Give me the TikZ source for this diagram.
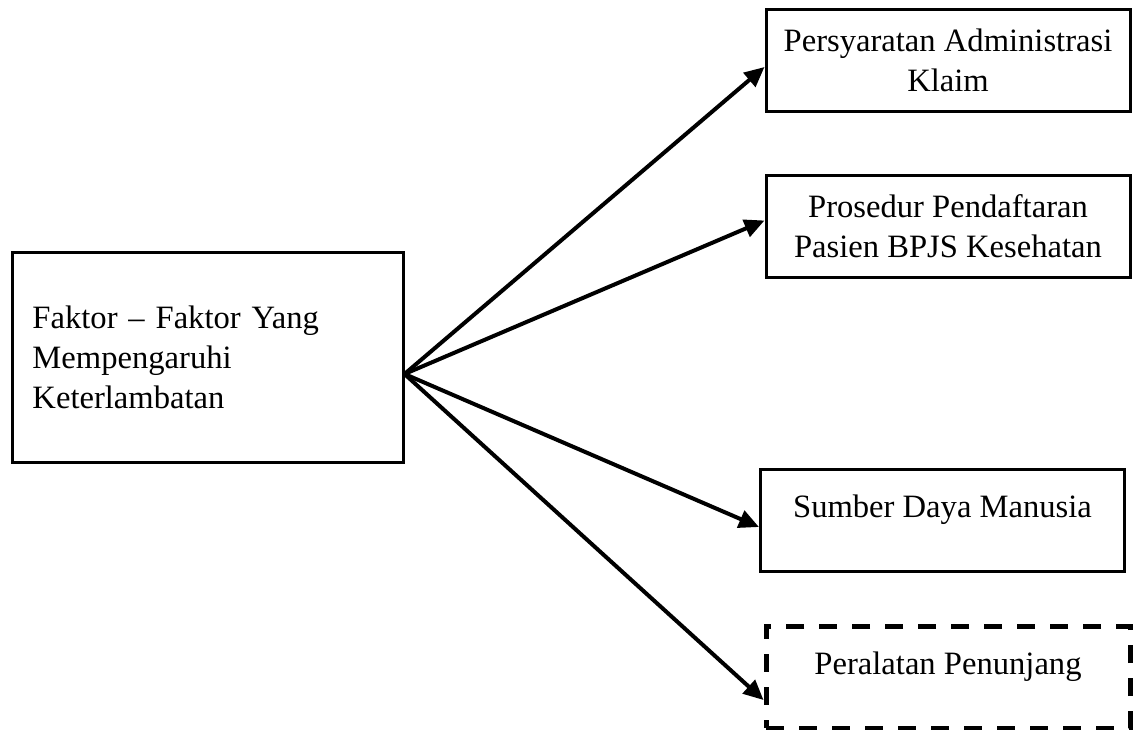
\documentclass[tikz,border=0pt]{standalone}
\usepackage{fontspec}
\setmainfont{Liberation Serif}
\usetikzlibrary{arrows.meta}
\tikzset{
  kotak/.style={draw, line width=1.5pt, minimum width=182pt, minimum height=51pt,
    align=center, inner sep=4pt, font=\fontsize{16.3}{20}\selectfont},
  kotakputus/.style={kotak, line width=2.5pt, dash pattern=on 9pt off 7.5pt},
  panah/.style={line width=2pt, -{Triangle[length=10pt,width=9pt]}}
}
\begin{document}
\begin{tikzpicture}[x=0.5pt,y=-0.5pt]
  \useasboundingbox (0,0) rectangle (1134,729);
  \node[kotak, minimum width=195.5pt, minimum height=105pt, align=left,
        text width=175pt, inner xsep=10pt] (faktor) at (207.5,357)
        {Faktor -- Faktor Yang\\Mempengaruhi\\Keterlambatan};
  \node[kotak] (syarat) at (948,60) {Persyaratan Administrasi\\Klaim};
  \node[kotak] (prosedur) at (948,226.5) {Prosedur Pendaftaran\\Pasien BPJS Kesehatan};
  \node[kotak, text depth=13.5pt] (sdm) at (942.5,520) {Sumber Daya Manusia};
  \node[kotakputus, text depth=13.5pt] (alat) at (948,677) {Peralatan Penunjang};
  \coordinate (pusat) at ([yshift=-8.5pt]faktor.east);
  \draw[panah] (pusat) -- ([yshift=-3.5pt]syarat.west);
  \draw[panah] (pusat) -- ([yshift=3pt]prosedur.west);
  \draw[panah] (pusat) -- ([yshift=-3.5pt]sdm.west);
  \draw[panah] (pusat) -- ([yshift=-11.5pt]alat.west);
\end{tikzpicture}
\end{document}
